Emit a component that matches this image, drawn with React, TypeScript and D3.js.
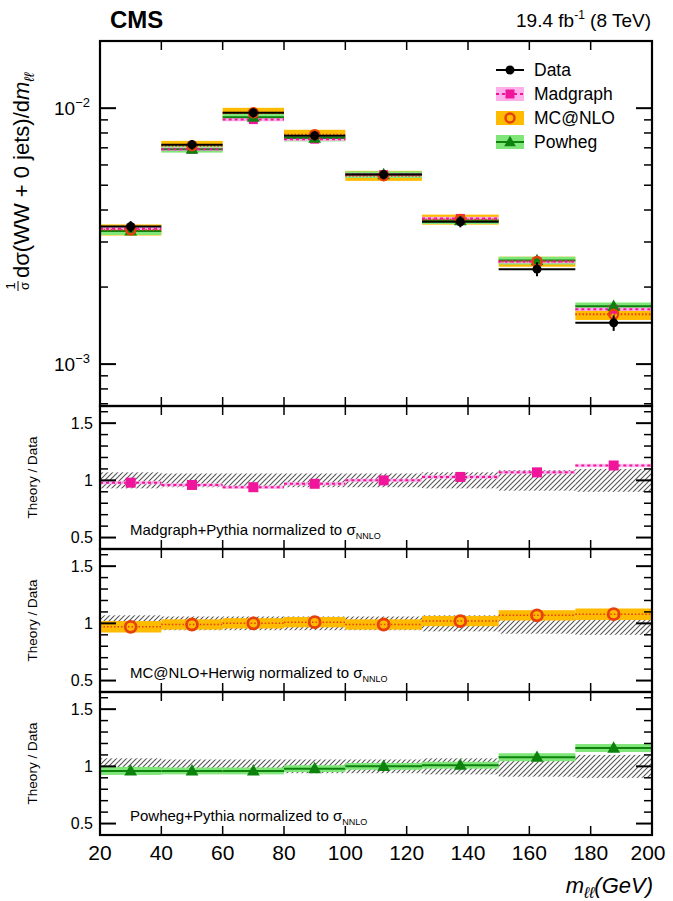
import * as d3 from 'd3';

// bins in m_ll (GeV)
const binEdges = [20, 40, 60, 80, 100, 125, 150, 175, 200];
const xTicks = [20, 40, 60, 80, 100, 120, 140, 160, 180, 200];

// normalised differential cross section (data)
const dataValues = [3.45e-3, 7.2e-3, 9.6e-3, 7.8e-3, 5.5e-3, 3.6e-3, 2.35e-3, 1.45e-3];
const dataRelErr = [0.07, 0.06, 0.06, 0.06, 0.06, 0.07, 0.09, 0.1];

// theory / data ratios
const madgraphRatio = [0.98, 0.96, 0.94, 0.97, 1.0, 1.03, 1.07, 1.13];
const mcatnloRatio = [0.97, 0.99, 1.0, 1.01, 0.99, 1.02, 1.07, 1.08];
const powhegRatio = [0.96, 0.96, 0.96, 0.98, 1.0, 1.01, 1.08, 1.16];

// theory relative uncertainties
const madgraphErr = [0.015, 0.015, 0.015, 0.015, 0.015, 0.015, 0.015, 0.015];
const mcatnloErr = [0.05, 0.045, 0.045, 0.045, 0.045, 0.045, 0.045, 0.05];
const powhegErr = [0.035, 0.03, 0.03, 0.03, 0.03, 0.03, 0.035, 0.035];

const logTicksMajor = [1e-3, 1e-2];
const ratioMajor = [0.5, 1, 1.5];

const FONT = '"Liberation Sans", Arial, Helvetica, sans-serif';

const PINK = '#f0169c';
const PINK_BAND = '#ffb0ea';
const ORANGE_BAND = '#ffbb00';
const ORANGE_LINE = '#e8400c';
const GREEN_BAND = '#80e67a';
const GREEN_LINE = '#0d820d';

const L = 100;
const R = 652;
const mainTop = 41;
const mainBot = 406;
const ratioPanels = [
  { top: 406, bot: 549, label: 'Madgraph+Pythia normalized to ' },
  { top: 549, bot: 692, label: 'MC@NLO+Herwig normalized to ' },
  { top: 692, bot: 835, label: 'Powheg+Pythia normalized to ' },
];

const x = d3.scaleLinear().domain([20, 200]).range([L, R]);
const yMain = d3.scaleLog().domain([6.86e-4, 1.83e-2]).range([mainBot, mainTop]);

const bins = d3.range(binEdges.length - 1).map((i) => ({
  i,
  lo: binEdges[i],
  hi: binEdges[i + 1],
  c: (binEdges[i] + binEdges[i + 1]) / 2,
}));

function triangle(cx: number, cy: number, s: number) {
  return `M${cx},${cy - s * 0.62}L${cx + s * 0.58},${cy + s * 0.42}L${cx - s * 0.58},${cy + s * 0.42}Z`;
}

function Frame({ top, bot, y, majors, minors, majorLen, minorLen }: any) {
  return (
    <g>
      {xTicks.map((t) => (
        <g key={'x' + t}>
          <line x1={x(t)} x2={x(t)} y1={bot} y2={bot - 9} stroke="#000" strokeWidth={1.5} />
          <line x1={x(t)} x2={x(t)} y1={top} y2={top + 9} stroke="#000" strokeWidth={1.5} />
        </g>
      ))}
      {majors.map((t: number) => (
        <g key={'M' + t}>
          <line x1={L} x2={L + majorLen} y1={y(t)} y2={y(t)} stroke="#000" strokeWidth={2} />
          <line x1={R} x2={R - majorLen} y1={y(t)} y2={y(t)} stroke="#000" strokeWidth={2} />
        </g>
      ))}
      {minors.map((t: number) => (
        <g key={'m' + t}>
          <line x1={L} x2={L + minorLen} y1={y(t)} y2={y(t)} stroke="#000" strokeWidth={1.5} />
          <line x1={R} x2={R - minorLen} y1={y(t)} y2={y(t)} stroke="#000" strokeWidth={1.5} />
        </g>
      ))}
      <rect x={L} y={top} width={R - L} height={bot - top} fill="none" stroke="#000" strokeWidth={2.2} />
    </g>
  );
}

function MainPanel() {
  const minors: number[] = [];
  [1e-4, 1e-3, 1e-2].forEach((d) => {
    for (let k = 2; k <= 9; k++) {
      const v = d * k;
      if (v > yMain.domain()[0] && v < yMain.domain()[1]) minors.push(v);
    }
  });
  const band = (ratio: number[], err: number[], fill: string) =>
    bins.map((b) => {
      const v = dataValues[b.i] * ratio[b.i];
      const y1 = yMain(v * (1 + err[b.i]));
      const y2 = yMain(v * (1 - err[b.i]));
      return <rect key={fill + b.i} x={x(b.lo)} y={y1} width={x(b.hi) - x(b.lo)} height={y2 - y1} fill={fill} />;
    });
  const hline = (ratio: number[], stroke: string, dash: string | undefined, w: number) =>
    bins.map((b) => {
      const yy = yMain(dataValues[b.i] * ratio[b.i]);
      return <line key={stroke + b.i} x1={x(b.lo)} x2={x(b.hi)} y1={yy} y2={yy} stroke={stroke} strokeWidth={w} strokeDasharray={dash} />;
    });
  return (
    <g>
      {band(mcatnloRatio, mcatnloErr, ORANGE_BAND)}
      {band(powhegRatio, powhegErr, GREEN_BAND)}
      {band(madgraphRatio, madgraphErr, PINK_BAND)}
      {hline(powhegRatio, GREEN_LINE, undefined, 2)}
      {hline(mcatnloRatio, ORANGE_LINE, '1.5,2', 2)}
      {hline(madgraphRatio, PINK, '3,3', 2)}
      {bins.map((b) => (
        <rect key={'ms' + b.i} x={x(b.c) - 4.5} y={yMain(dataValues[b.i] * madgraphRatio[b.i]) - 4.5} width={9} height={9} fill={PINK} />
      ))}
      {bins.map((b) => (
        <path key={'pt' + b.i} d={triangle(x(b.c), yMain(dataValues[b.i] * powhegRatio[b.i]), 11)} fill={GREEN_LINE} />
      ))}
      {bins.map((b) => (
        <circle key={'mc' + b.i} cx={x(b.c)} cy={yMain(dataValues[b.i] * mcatnloRatio[b.i])} r={4.5} fill="none" stroke={ORANGE_LINE} strokeWidth={2.5} />
      ))}
      {/* data */}
      {bins.map((b) => {
        const v = dataValues[b.i];
        const yy = yMain(v);
        return (
          <g key={'d' + b.i}>
            <line x1={x(b.lo)} x2={x(b.hi)} y1={yy} y2={yy} stroke="#000" strokeWidth={2} />
            <line x1={x(b.c)} x2={x(b.c)} y1={yMain(v * (1 + dataRelErr[b.i] * 0.7))} y2={yMain(v * (1 - dataRelErr[b.i] * 0.7))} stroke="#000" strokeWidth={2} />
            <circle cx={x(b.c)} cy={yy} r={4.5} fill="#000" />
          </g>
        );
      })}
      <Frame top={mainTop} bot={mainBot} y={yMain} majors={logTicksMajor} minors={minors} majorLen={16} minorLen={8} />
      {logTicksMajor.map((t) => (
        <text key={'l' + t} x={90} y={yMain(t) + 7} textAnchor="end" fontSize={19} fontFamily={FONT}>
          10<tspan dy={-8} fontSize={13}>{'\u2212' + Math.round(-Math.log10(t))}</tspan>
        </text>
      ))}
    </g>
  );
}

function RatioPanel({ p, idx }: { p: any; idx: number }) {
  const y = d3.scaleLinear().domain([0.4, 1.65]).range([p.bot, p.top]);
  const minors = d3.range(0.4, 1.66, 0.1).map((v) => Math.round(v * 10) / 10).filter((v) => !ratioMajor.includes(v));
  const clipId = 'clip' + idx;
  let content;
  if (idx === 0) {
    content = (
      <g>
        {bins.map((b) => {
          const r = madgraphRatio[b.i];
          return (
            <g key={b.i}>
              <rect x={x(b.lo)} y={y(r + madgraphErr[b.i])} width={x(b.hi) - x(b.lo)} height={y(r - madgraphErr[b.i]) - y(r + madgraphErr[b.i])} fill={PINK_BAND} opacity={0.8} />
              <line x1={x(b.lo)} x2={x(b.hi)} y1={y(r)} y2={y(r)} stroke={PINK} strokeWidth={2} strokeDasharray="3,3" />
              <rect x={x(b.c) - 5} y={y(r) - 5} width={10} height={10} fill={PINK} />
            </g>
          );
        })}
      </g>
    );
  } else if (idx === 1) {
    content = (
      <g>
        {bins.map((b) => {
          const r = mcatnloRatio[b.i];
          return (
            <g key={b.i}>
              <rect x={x(b.lo)} y={y(r + mcatnloErr[b.i])} width={x(b.hi) - x(b.lo)} height={y(r - mcatnloErr[b.i]) - y(r + mcatnloErr[b.i])} fill={ORANGE_BAND} />
              <line x1={x(b.lo)} x2={x(b.hi)} y1={y(r)} y2={y(r)} stroke={ORANGE_LINE} strokeWidth={1.5} strokeDasharray="1.5,2" />
              <circle cx={x(b.c)} cy={y(r)} r={5.5} fill="none" stroke={ORANGE_LINE} strokeWidth={2.8} />
            </g>
          );
        })}
      </g>
    );
  } else {
    content = (
      <g>
        {bins.map((b) => {
          const r = powhegRatio[b.i];
          return (
            <g key={b.i}>
              <rect x={x(b.lo)} y={y(r + powhegErr[b.i])} width={x(b.hi) - x(b.lo)} height={y(r - powhegErr[b.i]) - y(r + powhegErr[b.i])} fill={GREEN_BAND} />
              <line x1={x(b.lo)} x2={x(b.hi)} y1={y(r)} y2={y(r)} stroke={GREEN_LINE} strokeWidth={2} />
              <path d={triangle(x(b.c), y(r), 11)} fill={GREEN_LINE} />
            </g>
          );
        })}
      </g>
    );
  }
  return (
    <g>
      <clipPath id={clipId}>
        <rect x={L} y={p.top} width={R - L} height={p.bot - p.top} />
      </clipPath>
      <g clipPath={`url(#${clipId})`}>
        {bins.map((b) => (
          <rect key={'h' + b.i} x={x(b.lo)} y={y(1 + dataRelErr[b.i])} width={x(b.hi) - x(b.lo)} height={y(1 - dataRelErr[b.i]) - y(1 + dataRelErr[b.i])} fill="url(#hatch)" />
        ))}
        {content}
      </g>
      <Frame top={p.top} bot={p.bot} y={y} majors={ratioMajor} minors={minors} majorLen={16} minorLen={8} />
      {ratioMajor.map((t) => (
        <text key={t} x={93} y={y(t) + 5.5} textAnchor="end" fontSize={16} fontFamily={FONT}>
          {String(t)}
        </text>
      ))}
      <text transform={`translate(37,${(p.top + p.bot) / 2}) rotate(-90)`} textAnchor="middle" fontSize={13.5} fontFamily={FONT}>
        Theory / Data
      </text>
      <text x={130} y={p.bot - 14} fontSize={15} fontFamily={FONT}>
        {p.label}σ<tspan dy={4} fontSize={9}>NNLO</tspan>
      </text>
    </g>
  );
}

function Legend() {
  const lx = 496;
  const items = [
    { name: 'Data', y: 70 },
    { name: 'Madgraph', y: 94 },
    { name: 'MC@NLO', y: 118 },
    { name: 'Powheg', y: 142 },
  ];
  return (
    <g fontFamily={FONT} fontSize={17.5}>
      {/* Data */}
      <line x1={lx} x2={lx + 28} y1={items[0].y} y2={items[0].y} stroke="#000" strokeWidth={2} />
      <circle cx={lx + 14} cy={items[0].y} r={4.5} fill="#000" />
      {/* Madgraph */}
      <rect x={lx} y={items[1].y - 7} width={28} height={14} fill={PINK_BAND} />
      <line x1={lx} x2={lx + 28} y1={items[1].y} y2={items[1].y} stroke={PINK} strokeWidth={2} strokeDasharray="3,3" />
      <rect x={lx + 9.5} y={items[1].y - 4.5} width={9} height={9} fill={PINK} />
      {/* MC@NLO */}
      <rect x={lx} y={items[2].y - 7} width={28} height={14} fill={ORANGE_BAND} />
      <circle cx={lx + 14} cy={items[2].y} r={4.5} fill="none" stroke={ORANGE_LINE} strokeWidth={2.5} />
      {/* Powheg */}
      <rect x={lx} y={items[3].y - 7} width={28} height={14} fill={GREEN_BAND} />
      <line x1={lx} x2={lx + 28} y1={items[3].y} y2={items[3].y} stroke={GREEN_LINE} strokeWidth={2} />
      <path d={triangle(lx + 14, items[3].y, 10)} fill={GREEN_LINE} />
      {items.map((it) => (
        <text key={it.name} x={lx + 38} y={it.y + 6}>
          {it.name}
        </text>
      ))}
    </g>
  );
}

export default function App() {
  return (
    <svg width={673} height={901} style={{ position: 'absolute', left: 0, top: 0, background: '#fff' }}>
      <defs>
        <pattern id="hatch" patternUnits="userSpaceOnUse" width={5} height={5}>
          <path d="M-1,6 L6,-1 M-1,1 L1,-1 M4,6 L6,4" stroke="#555" strokeWidth={1.1} />
        </pattern>
      </defs>
      <rect width={673} height={901} fill="#fff" />
      <text x={110} y={28} fontFamily={FONT} fontWeight="bold" fontSize={24}>
        CMS
      </text>
      <text x={651} y={27} textAnchor="end" fontFamily={FONT} fontSize={19}>
        19.4 fb<tspan dy={-8} fontSize={12}>-1</tspan>
        <tspan dy={8}> (8 TeV)</tspan>
      </text>
      <MainPanel />
      {ratioPanels.map((p, i) => (
        <RatioPanel key={i} p={p} idx={i} />
      ))}
      <Legend />
      {/* y axis title */}
      <g transform="translate(29,172) rotate(-90)" fontFamily={FONT}>
        <text x={-114} y={-14} fontSize={13} textAnchor="middle">1</text>
        <line x1={-119} x2={-109} y1={-11} y2={-11} stroke="#000" strokeWidth={1} />
        <text x={-114} y={0} fontSize={13} textAnchor="middle">σ</text>
        <text x={-106} y={0} fontSize={22} textAnchor="start">
          dσ(WW + 0 jets)/d<tspan fontStyle="italic">m</tspan>
          <tspan dy={5} fontSize={14} fontStyle="italic">ℓℓ</tspan>
        </text>
      </g>
      {/* x axis */}
      {xTicks.map((t) => (
        <text key={t} x={t === 200 ? x(t) - 4 : x(t)} y={860} textAnchor="middle" fontFamily={FONT} fontSize={21}>
          {t}
        </text>
      ))}
      <text x={653} y={893} textAnchor="end" fontFamily={FONT} fontSize={22} fontStyle="italic">
        m<tspan dy={5} fontSize={16}>ℓℓ</tspan>
        <tspan dy={-5}>(GeV)</tspan>
      </text>
    </svg>
  );
}
